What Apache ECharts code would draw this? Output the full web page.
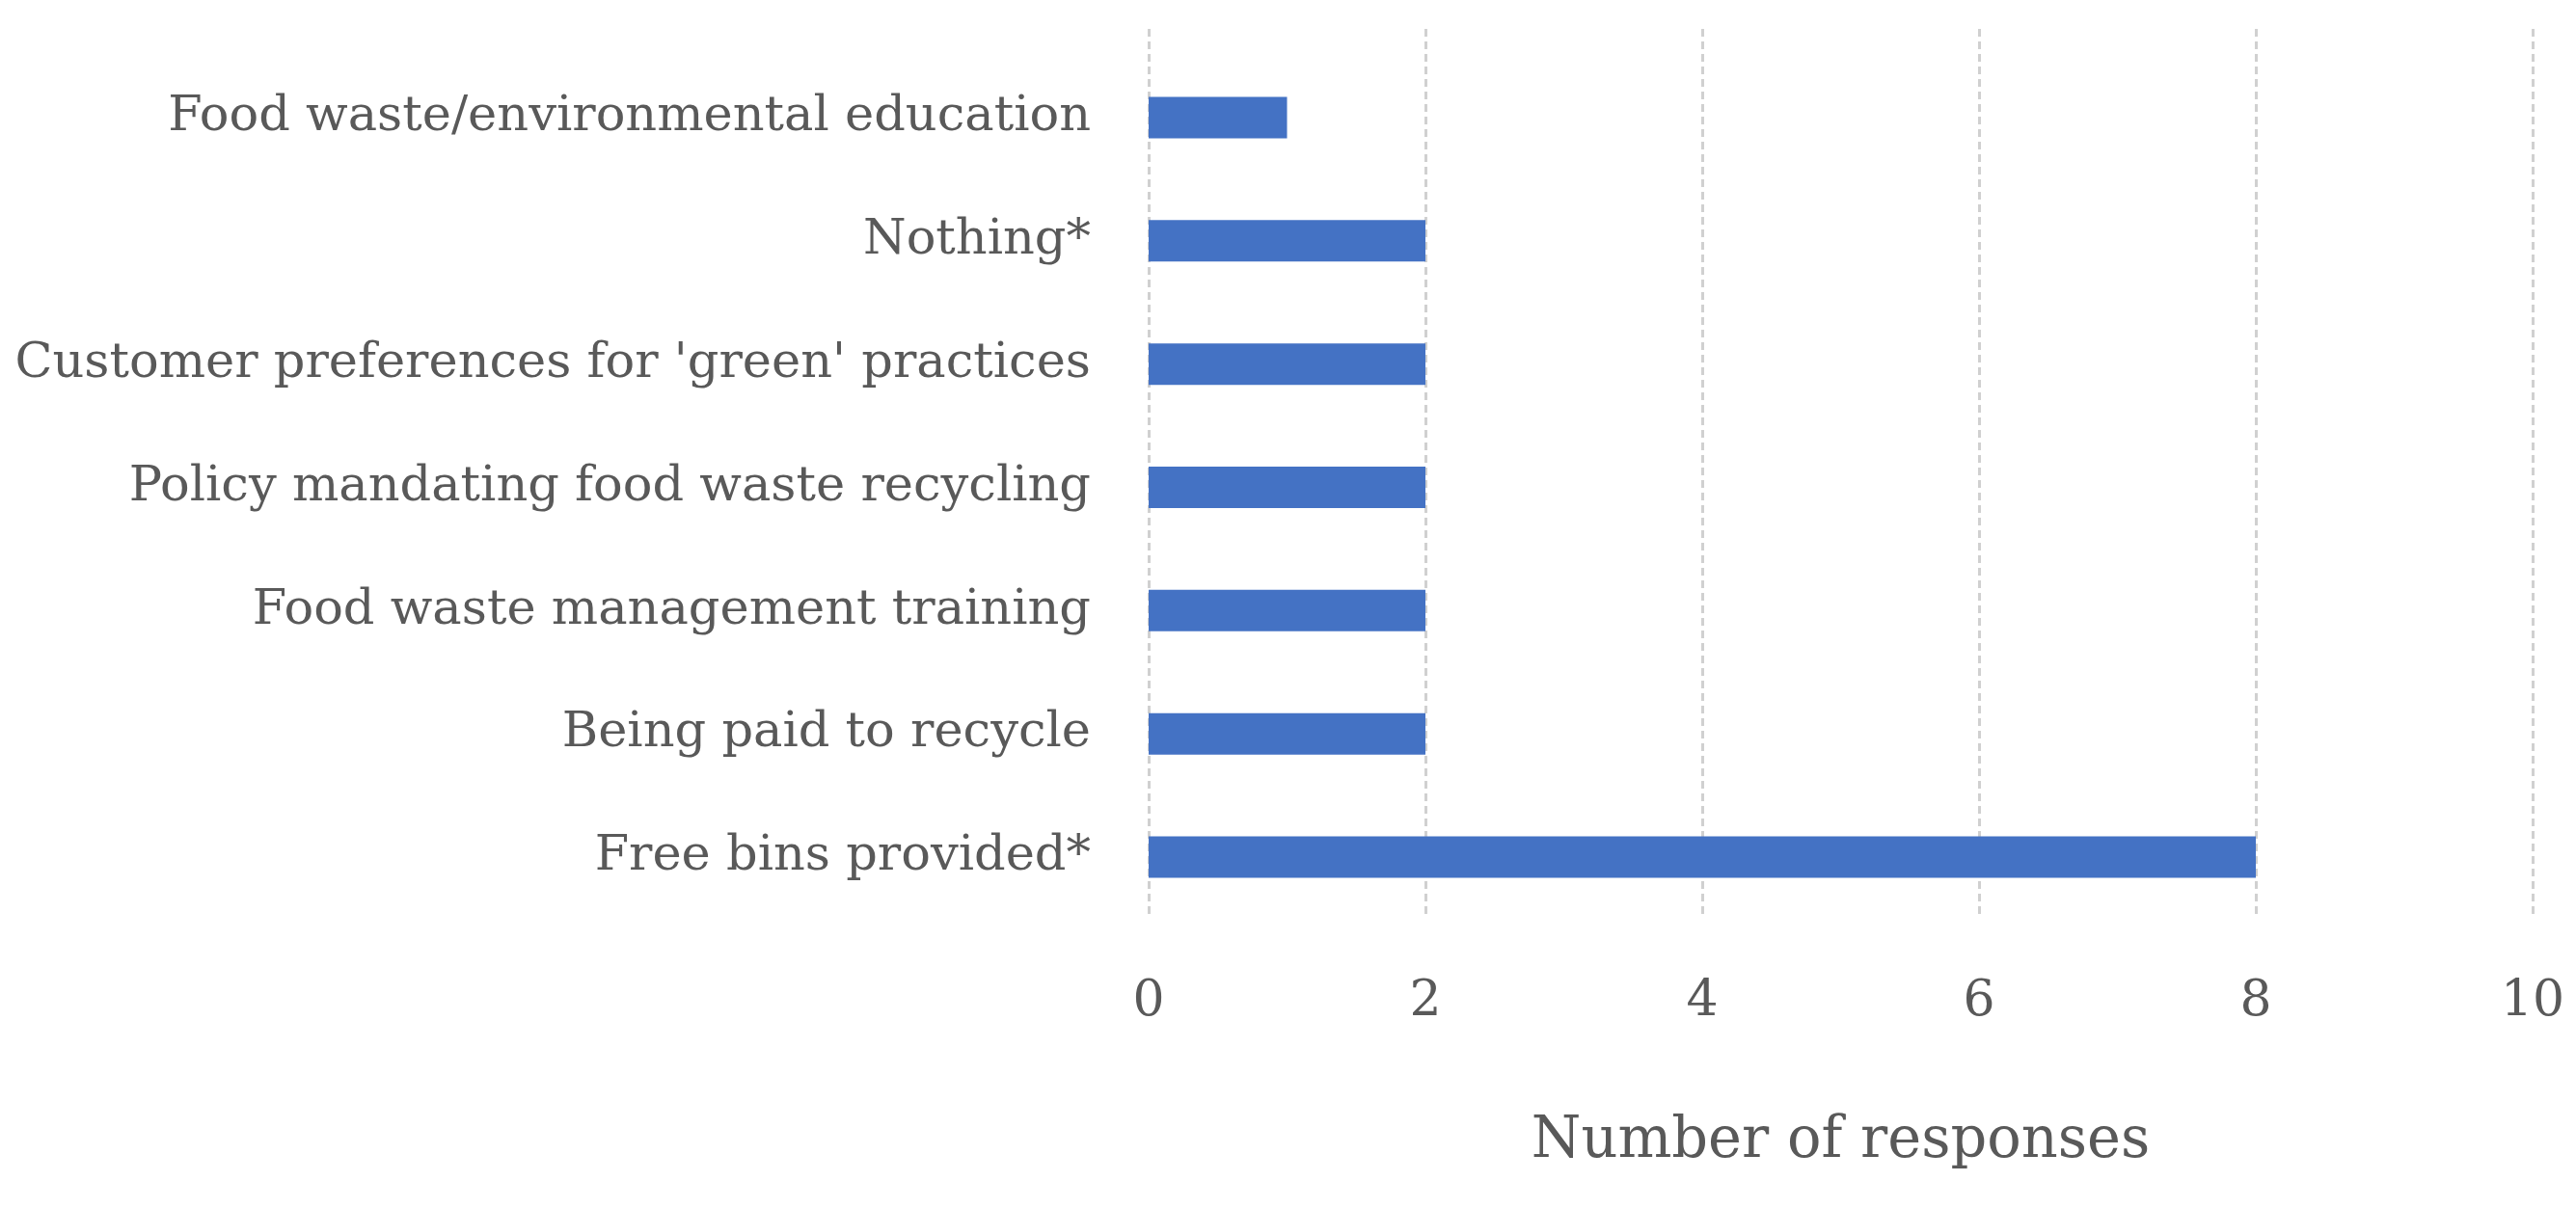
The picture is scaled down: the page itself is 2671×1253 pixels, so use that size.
<!DOCTYPE html>
<html><head><meta charset="utf-8">
<script src="https://cdn.jsdelivr.net/npm/echarts@6/dist/echarts.min.js"></script>
<style>html,body{margin:0;padding:0;background:#fff}#c{width:2671px;height:1253px}</style>
</head><body><div id="c"></div>
<script>
const categories = ["Free bins provided*", "Being paid to recycle", "Food waste management training", "Policy mandating food waste recycling", "Customer preferences for 'green' practices", "Nothing*", "Food waste/environmental education"];
const responses = [8, 2, 2, 2, 2, 2, 1];
const xMin = 0, xMax = 10, xStep = 2;
const axisTitle = "Number of responses";

const FONT = "DejaVu Serif";
const TXT = "#595959";
const chart = echarts.init(document.getElementById('c'), null, {renderer: 'canvas'});
chart.setOption({
  animation: false,
  backgroundColor: '#fff',
  grid: [
    {left: 1191, right: 45, top: 58, bottom: 300, containLabel: false, outerBoundsMode: 'none'},
    {left: 1191, right: 45, top: 30, bottom: 301, containLabel: false, outerBoundsMode: 'none'}
  ],
  xAxis: [
    {gridIndex: 0, type: 'value', min: xMin, max: xMax, interval: xStep,
     axisLine: {show: false}, axisTick: {show: false}, splitLine: {show: false},
     axisLabel: {fontFamily: FONT, fontSize: 52, color: TXT, margin: 60},
     name: axisTitle, nameLocation: 'middle', nameGap: 202,
     nameTextStyle: {fontFamily: FONT, fontSize: 59, color: TXT}},
    {gridIndex: 1, type: 'value', min: xMin, max: xMax, interval: xStep,
     axisLine: {show: false}, axisTick: {show: false}, axisLabel: {show: false},
     splitLine: {show: true, lineStyle: {color: '#d0d0d0', width: 3, type: [8, 5]}}}
  ],
  yAxis: [
    {gridIndex: 0, type: 'category', data: categories,
     axisLine: {show: false}, axisTick: {show: false},
     axisLabel: {fontFamily: FONT, fontSize: 51, color: TXT, margin: 60}},
    {gridIndex: 1, type: 'category', data: categories, show: false}
  ],
  series: [{
    type: 'bar', xAxisIndex: 0, yAxisIndex: 0, data: responses,
    barWidth: 43, itemStyle: {color: '#4472C4'}
  }]
});
</script></body></html>
